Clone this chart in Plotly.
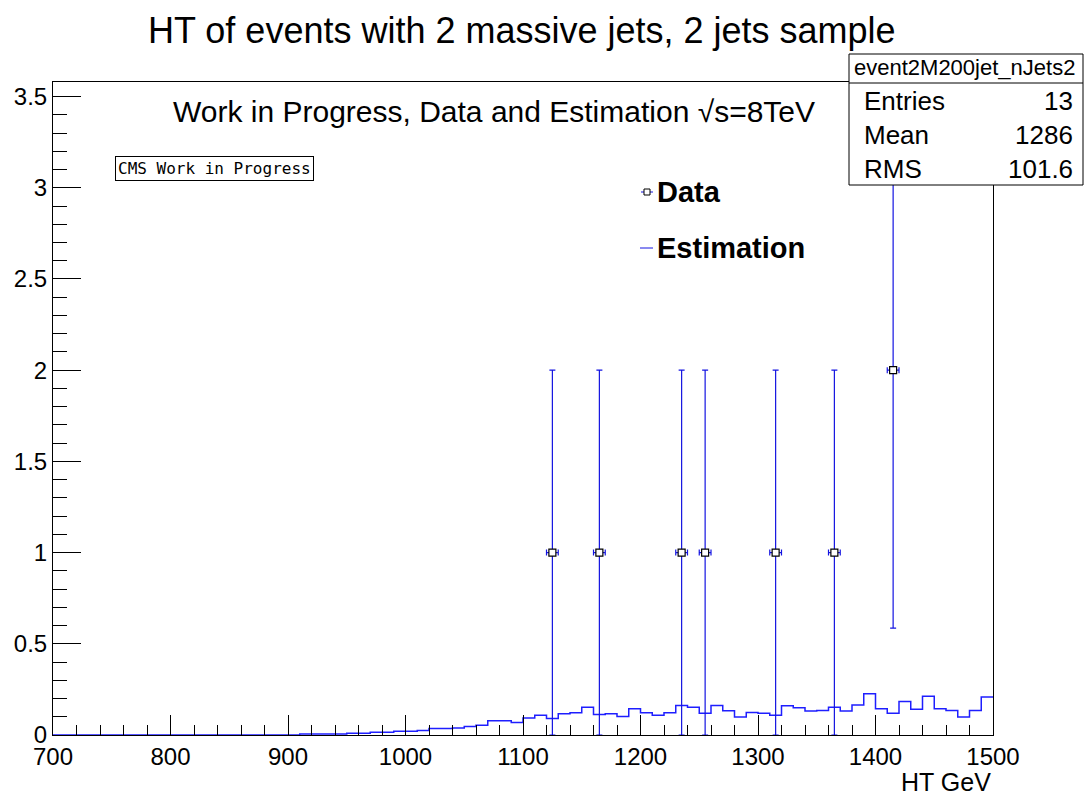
import numpy as np
import plotly.graph_objects as go

# ---------------- data ----------------
bin_low = 700
bin_high = 1500
bin_width = 10

estimation = [0.0] * 21 + [
    0.005, 0.005, 0.005, 0.005,           # 910-950
    0.009, 0.009,                          # 950-970
    0.015, 0.015,                          # 970-990
    0.021, 0.021,                          # 990-1010
    0.025,                                 # 1010-1020
    0.035, 0.035, 0.038, 0.046, 0.053, 0.078, 0.078, 0.069, 0.093, 0.108,
    0.091, 0.117, 0.122, 0.152, 0.113, 0.117, 0.102, 0.144, 0.122, 0.108,
    0.122, 0.162, 0.152, 0.119, 0.162, 0.133, 0.099, 0.124, 0.119, 0.108,
    0.161, 0.150, 0.131, 0.135, 0.152, 0.131, 0.164, 0.226, 0.144, 0.119,
    0.183, 0.141, 0.212, 0.144, 0.135, 0.099, 0.135, 0.208,
]

data_x = [1125, 1165, 1235, 1255, 1315, 1365, 1415]
data_y = [1, 1, 1, 1, 1, 1, 2]
data_err = [1.0, 1.0, 1.0, 1.0, 1.0, 1.0, 1.414]
data_xerr = [5, 5, 5, 5, 5, 5, 5]

x_ticks = [700, 800, 900, 1000, 1100, 1200, 1300, 1400, 1500]
y_ticks = [0, 0.5, 1, 1.5, 2, 2.5, 3, 3.5]
y_ticktext = ["0", "0.5", "1", "1.5", "2", "2.5", "3", "3.5"]

title_text = "HT of events with 2 massive jets, 2 jets sample"
subtitle_text = "Work in Progress, Data and Estimation \u221As=8TeV"
stats_name = "event2M200jet_nJets2"
stats_labels = ["Entries", "Mean", "RMS"]
stats_values = ["13", "1286", "101.6"]

# ---------------- layout helpers ----------------
W_PX, H_PX = 1087, 796
L, R, T, B = 53, 993, 82, 735
PW, PH = R - L, B - T


def px(x):
    return (x - L) / PW


def py(y):
    return (B - y) / PH


FONT = "Liberation Sans, Arial, Helvetica, sans-serif"
BLUE = "rgb(20,20,225)"

edges = np.arange(bin_low, bin_high + bin_width, bin_width)
est_y = list(estimation) + [estimation[-1]]

fig = go.Figure()

fig.add_trace(go.Scatter(
    x=edges, y=est_y, mode="lines", line=dict(color="rgb(30,30,255)", width=1.5, shape="hv"),
    showlegend=False, hoverinfo="skip", cliponaxis=True,
))

fig.add_trace(go.Scatter(
    x=data_x, y=data_y, mode="markers",
    marker=dict(symbol="square", size=7, color="white", line=dict(color="black", width=1.2)),
    error_y=dict(type="data", array=data_err, visible=True, color=BLUE, thickness=1.2, width=3),
    error_x=dict(type="data", array=data_xerr, visible=True, color=BLUE, thickness=1.2, width=3),
    showlegend=False, cliponaxis=False,
))

axis_common = dict(
    showline=True, linecolor="black", linewidth=1, mirror=True,
    ticks="inside", tickcolor="black", tickwidth=1,
    showgrid=False, zeroline=False,
    tickfont=dict(family=FONT, size=24, color="black"),
)

fig.update_xaxes(
    range=[bin_low, bin_high], tickvals=x_ticks, ticklen=20,
    minor=dict(ticks="inside", ticklen=10, dtick=20, tick0=700, tickcolor="black", showgrid=False),
    **axis_common,
)
fig.update_yaxes(
    range=[0, 3.58], tickvals=y_ticks, ticktext=y_ticktext, ticklen=28,
    minor=dict(ticks="inside", ticklen=14, dtick=0.1, tick0=0, tickcolor="black", showgrid=False),
    **axis_common,
)

annotations = [
    dict(text=title_text, x=px(522), y=py(30), xref="paper", yref="paper",
         xanchor="center", yanchor="middle", showarrow=False,
         font=dict(family=FONT, size=36, color="black")),
    dict(text=subtitle_text, x=px(171), y=py(111), xref="paper", yref="paper",
         xanchor="left", yanchor="middle", showarrow=False,
         font=dict(family=FONT, size=30, color="black")),
    dict(text="HT GeV", x=px(993), y=py(782), xref="paper", yref="paper",
         xanchor="right", yanchor="middle", showarrow=False,
         font=dict(family=FONT, size=25, color="black")),
    dict(text="CMS Work in Progress", x=px(115), y=py(168), xref="paper", yref="paper",
         xanchor="left", yanchor="middle", showarrow=False,
         bordercolor="black", borderwidth=1, borderpad=2, bgcolor="white",
         font=dict(family="DejaVu Sans Mono, monospace", size=16, color="black")),
    dict(text="<b>Data</b>", x=px(655), y=py(192), xref="paper", yref="paper",
         xanchor="left", yanchor="middle", showarrow=False,
         font=dict(family=FONT, size=29, color="black")),
    dict(text="<b>Estimation</b>", x=px(655), y=py(248), xref="paper", yref="paper",
         xanchor="left", yanchor="middle", showarrow=False,
         font=dict(family=FONT, size=29, color="black")),
    dict(text=stats_name, x=px(964), y=py(68), xref="paper", yref="paper",
         xanchor="center", yanchor="middle", showarrow=False,
         font=dict(family=FONT, size=22, color="black")),
]
row_y = [101, 135, 169]
for lab, val, yy in zip(stats_labels, stats_values, row_y):
    annotations.append(dict(text=lab, x=px(862), y=py(yy), xref="paper", yref="paper",
                            xanchor="left", yanchor="middle", showarrow=False,
                            font=dict(family=FONT, size=26, color="black")))
    annotations.append(dict(text=val, x=px(1075), y=py(yy), xref="paper", yref="paper",
                            xanchor="right", yanchor="middle", showarrow=False,
                            font=dict(family=FONT, size=26, color="black")))

shapes = [
    # stats box
    dict(type="rect", xref="paper", yref="paper", x0=px(849), x1=px(1083), y0=py(185), y1=py(54),
         fillcolor="white", line=dict(color="black", width=1), layer="above"),
    dict(type="line", xref="paper", yref="paper", x0=px(849), x1=px(1083), y0=py(83), y1=py(83),
         line=dict(color="black", width=1), layer="above"),
    # legend symbols
    dict(type="line", xref="paper", yref="paper", x0=px(641), x1=px(653), y0=py(192), y1=py(192),
         line=dict(color=BLUE, width=1), layer="above"),
    dict(type="rect", xref="paper", yref="paper", x0=px(644), x1=px(650), y0=py(195), y1=py(189),
         fillcolor="white", line=dict(color="black", width=1), layer="above"),
    dict(type="line", xref="paper", yref="paper", x0=px(640), x1=px(653), y0=py(248), y1=py(248),
         line=dict(color=BLUE, width=1), layer="above"),
]

fig.update_layout(
    width=W_PX, height=H_PX,
    margin=dict(l=L, r=W_PX - R, t=T, b=H_PX - B, pad=0),
    paper_bgcolor="white", plot_bgcolor="white",
    showlegend=False,
    annotations=annotations, shapes=shapes,
)

fig.write_html("out.html")
